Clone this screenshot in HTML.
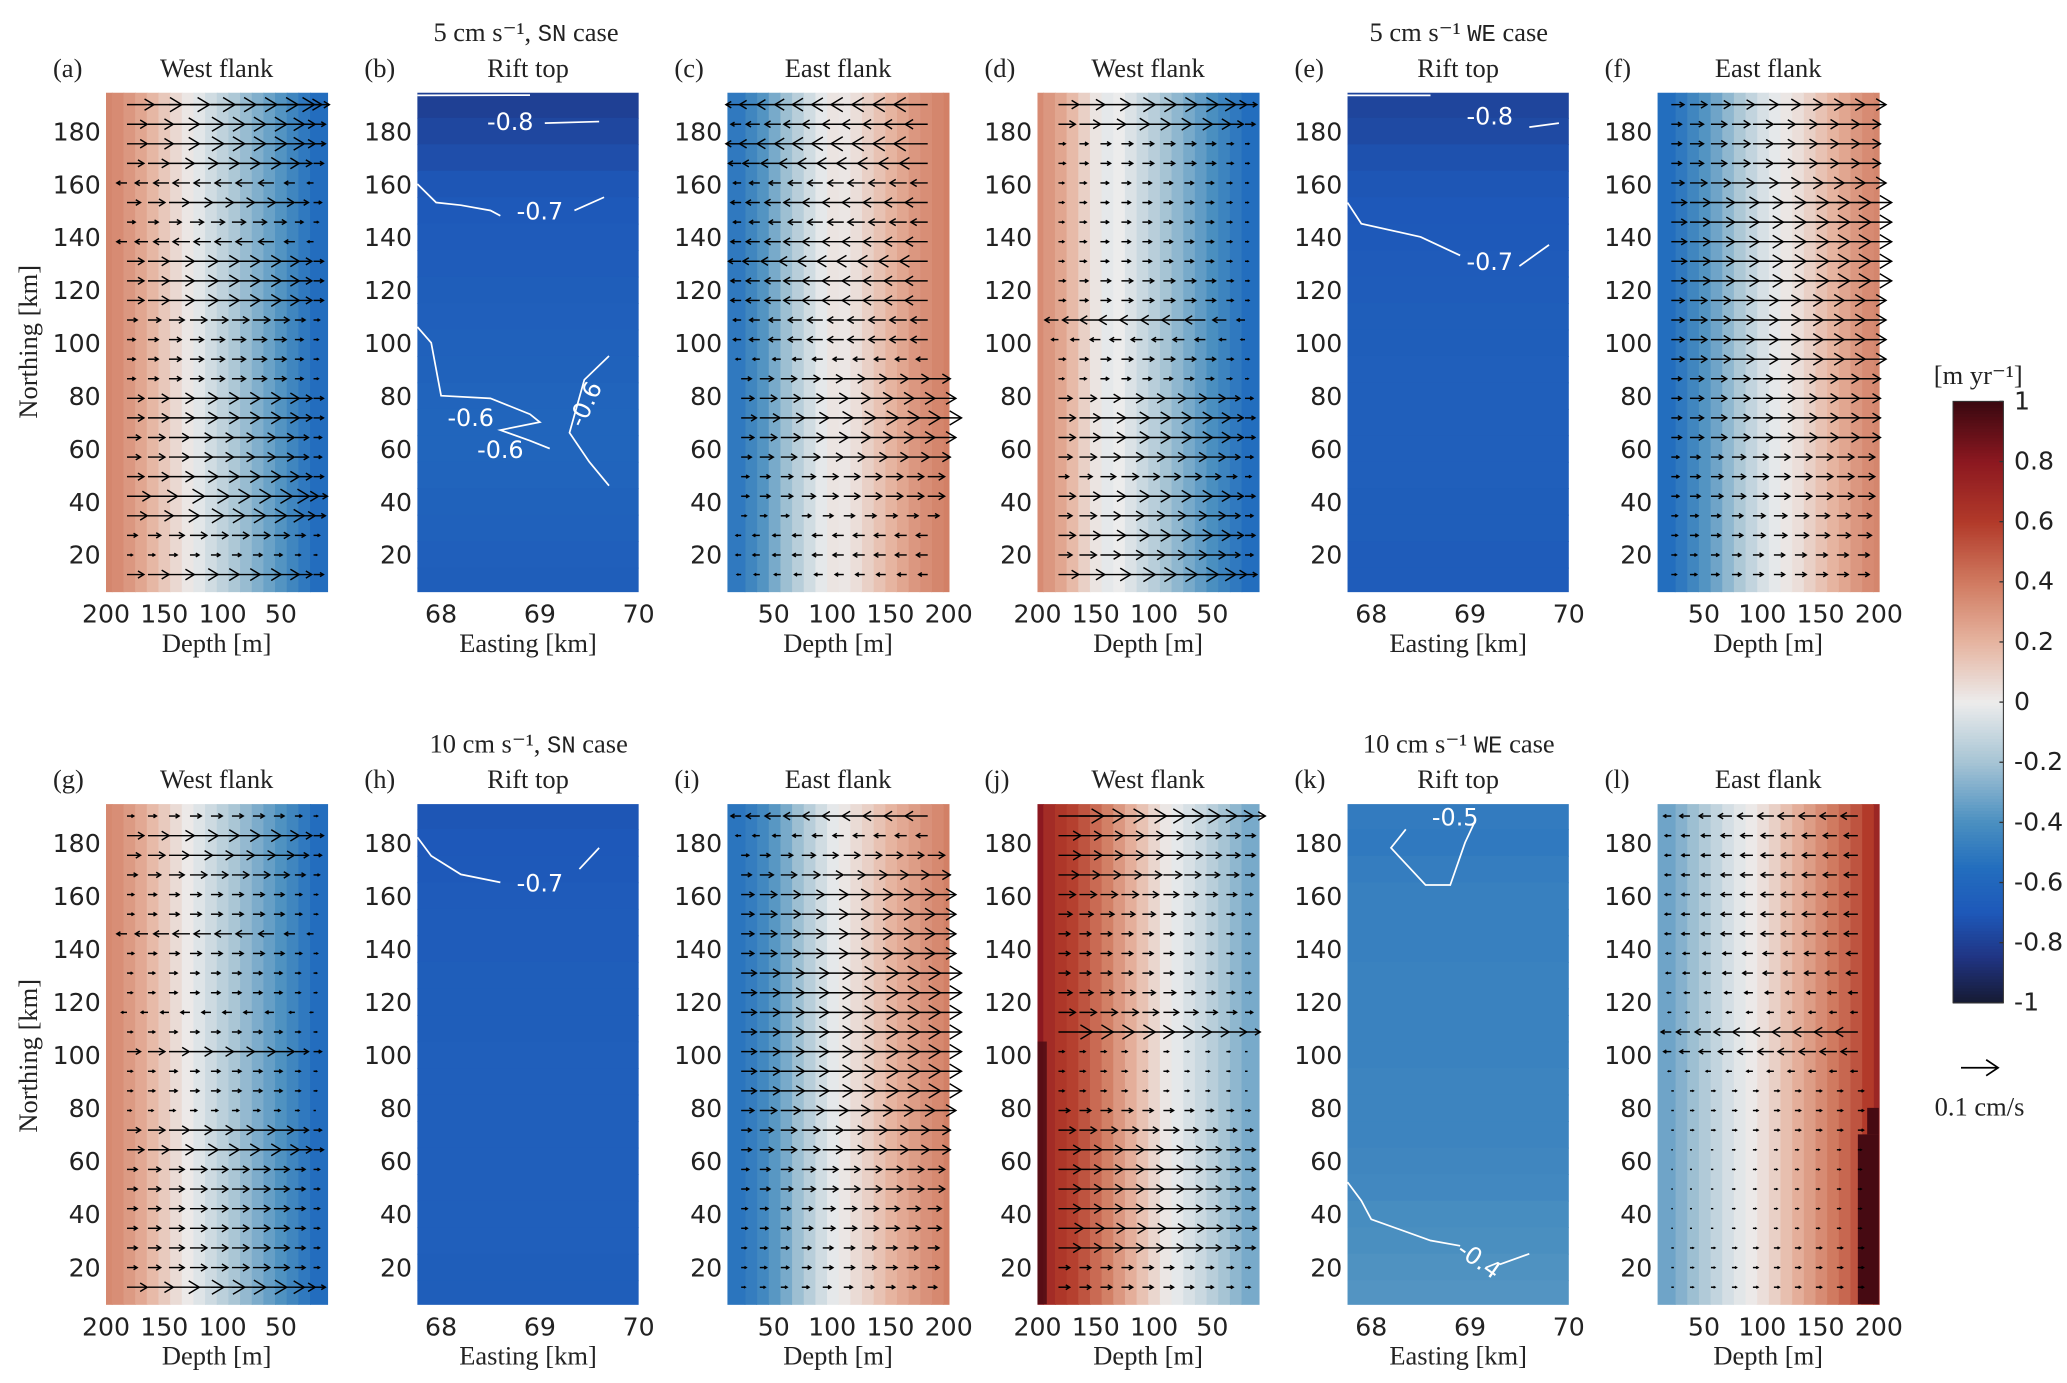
<!DOCTYPE html>
<html><head><meta charset="utf-8"><style>
html,body{margin:0;padding:0;background:#fff;}
svg{display:block;}
.tk{font-family:"DejaVu Sans","Liberation Sans",sans-serif;font-size:19px;fill:#222;}
.ti{font-family:"Liberation Serif",serif;font-size:20px;fill:#222;}
.ct{font-family:"DejaVu Sans","Liberation Sans",sans-serif;font-size:18px;fill:#fff;}
</style></head><body>
<svg id="fig" width="2067" height="1383" viewBox="0 0 1560 1044" preserveAspectRatio="none" xmlns="http://www.w3.org/2000/svg">
<g id="root"></g>
</svg>
<script>
// ---- data ----
const northRange = [5.75, 194.5];
const colDepths = [200,190,180,170,160,150,140,130,120,110,100,90,80,70,60,50,40,30,20];
const arrowDepths = [182,164,146,128,110,92,74,56,38,22];
const arrowRows = [190,182.6,175.2,167.8,160.4,153,145.6,138.2,130.8,123.4,116,108.6,101.2,93.8,86.4,79,71.6,64.2,56.8,49.4,42,34.6,27.2,19.8,12.4];
const riftRows = [190,180,170,160,150,140,130,120,110,100,90,80,70,60,50,40,30,20,10];
const valsA = [0.36,0.34,0.3,0.25,0.19,0.13,0.07,0.02,-0.03,-0.08,-0.13,-0.18,-0.23,-0.28,-0.33,-0.38,-0.44,-0.5,-0.56];
const valsC = [0.38,0.36,0.33,0.3,0.25,0.2,0.15,0.1,0.05,0.02,0.03,-0.02,-0.08,-0.15,-0.22,-0.3,-0.38,-0.44,-0.5];
const valsD = [0.34,0.3,0.25,0.18,0.1,0.03,-0.02,0.0,-0.05,-0.1,-0.15,-0.2,-0.25,-0.3,-0.35,-0.4,-0.45,-0.5,-0.55];
const valsF = [0.36,0.34,0.3,0.25,0.2,0.15,0.1,0.05,0.02,-0.02,-0.06,-0.12,-0.18,-0.25,-0.32,-0.38,-0.44,-0.5,-0.55];
const valsG = [0.35,0.33,0.29,0.24,0.18,0.12,0.06,0.01,-0.04,-0.09,-0.14,-0.19,-0.24,-0.29,-0.34,-0.39,-0.44,-0.5,-0.56];
const valsI = [0.38,0.35,0.32,0.28,0.24,0.2,0.15,0.1,0.06,0.02,-0.02,-0.08,-0.15,-0.22,-0.3,-0.37,-0.43,-0.48,-0.52];
const valsJ = [0.8,0.68,0.62,0.58,0.52,0.45,0.38,0.3,0.22,0.15,0.08,0.02,-0.02,-0.06,-0.1,-0.15,-0.2,-0.25,-0.3];
const valsL = [0.72,0.6,0.52,0.46,0.4,0.34,0.28,0.22,0.16,0.1,0.05,0.01,-0.03,-0.07,-0.12,-0.17,-0.22,-0.27,-0.32];
const riftB = [-0.8,-0.77,-0.74,-0.71,-0.69,-0.68,-0.67,-0.66,-0.65,-0.64,-0.63,-0.62,-0.61,-0.61,-0.62,-0.63,-0.64,-0.65,-0.66];
const riftE = [-0.78,-0.76,-0.73,-0.71,-0.7,-0.69,-0.68,-0.67,-0.66,-0.66,-0.65,-0.65,-0.65,-0.65,-0.65,-0.66,-0.66,-0.67,-0.67];
const riftH = [-0.71,-0.7,-0.69,-0.68,-0.67,-0.67,-0.66,-0.66,-0.66,-0.65,-0.65,-0.65,-0.65,-0.65,-0.65,-0.65,-0.65,-0.66,-0.66];
const riftK = [-0.49,-0.5,-0.48,-0.47,-0.47,-0.47,-0.46,-0.46,-0.46,-0.46,-0.45,-0.45,-0.45,-0.44,-0.43,-0.41,-0.4,-0.39,-0.38];
const ampA = [40,30,30,25,-15,20,12,-15,25,25,25,15,12,12,12,25,25,20,20,25,35,30,15,8,25];
const ampC = [-30,-20,-30,-25,-15,-20,-15,-20,-25,-20,-20,-15,-15,-10,20,25,30,25,20,15,15,10,-10,-10,-8];
const ampD = [30,25,10,10,8,8,8,8,8,10,10,-20,-10,10,8,20,25,25,20,15,25,20,25,20,30];
const ampF = [25,20,20,20,25,30,30,30,30,30,25,25,25,25,20,20,20,20,15,15,15,12,12,10,10];
const ampG = [10,25,20,15,10,10,-15,10,8,8,-8,8,20,8,8,6,20,25,15,15,15,15,15,15,30];
const ampI = [-20,-10,15,20,25,25,25,25,30,30,30,30,30,30,30,25,20,20,15,15,12,12,10,10,8];
const ampJ = [40,20,20,18,15,12,10,10,10,12,15,30,5,5,5,10,15,20,20,20,20,22,20,10,10];
const ampL = [-15,-12,-12,-12,-12,-12,-12,-10,-10,-8,-6,-20,-15,-6,5,5,5,3,3,3,3,3,5,5,5];
const wA = [0.6,0.75,0.9,1,1,1,1,0.9,0.6,0.35];
const wFlat = [1,1,1,1,0.95,0.9,0.8,0.7,0.6,0.45];
const contB1 = [[67.76,193.5],[68.9,193.6]], contB2=[[69.05,183],[69.6,183.6]];
const contB3 = [[67.76,160],[67.95,153],[68.2,152],[68.5,150],[68.6,148]], contB4=[[69.35,150],[69.65,155]];
const contB5 = [[67.76,106],[67.9,100],[67.95,90],[68.0,80],[68.5,79],[68.9,73],[69.0,70],[68.6,67],[68.9,63],[69.1,60]];
const contB6 = [[69.7,95],[69.45,86],[69.3,66],[69.5,55],[69.7,46]];
const contE1 = [[67.76,193.5],[68.6,193.5]], contE2=[[69.6,181.5],[69.9,183]];
const contE3 = [[67.76,153],[67.9,145],[68.5,140],[68.9,133]], contE4=[[69.5,129],[69.8,137]];
const contH1 = [[67.76,182],[67.9,175],[68.2,168],[68.6,165]], contH2=[[69.4,170],[69.6,178]];
const contK1 = [[68.35,185],[68.2,178],[68.4,170],[68.55,164],[68.8,164],[68.95,180],[69.05,188]];
const contK2 = [[67.76,52],[67.9,45],[68.0,38],[68.6,30],[68.9,28]], contK3=[[69.3,21],[69.6,25]];
const cbTicks = [1,0.8,0.6,0.4,0.2,0,-0.2,-0.4,-0.6,-0.8,-1];
const yTicks = [20,40,60,80,100,120,140,160,180];

const cmap = [[-1,[22,26,50]],[-0.85,[32,52,130]],[-0.7,[30,88,185]],[-0.55,[35,110,190]],[-0.4,[74,143,192]],[-0.2,[166,196,212]],[0,[236,236,236]],[0.2,[230,180,160]],[0.4,[208,122,96]],[0.6,[178,58,42]],[0.8,[140,24,32]],[1,[58,8,16]]];
function col(v){v=Math.max(-1,Math.min(1,v));for(let i=0;i<cmap.length-1;i++){const a=cmap[i],b=cmap[i+1];if(v<=b[0]){const t=(v-a[0])/(b[0]-a[0]);return 'rgb('+a[1].map((c,k)=>Math.round(c+(b[1][k]-c)*t)).join(',')+')';}}return 'rgb(58,8,16)';}

const NS='http://www.w3.org/2000/svg';
const root=document.getElementById('root');
function el(tag,attrs,parent,txt){const e=document.createElementNS(NS,tag);for(const k in attrs)e.setAttribute(k,attrs[k]);if(txt!==undefined)e.textContent=txt;(parent||root).appendChild(e);return e;}

const colX=[80,315,549,783,1017,1251], W=167;
const rowsY=[[70,447],[607,985]];
function yScale(r){const [t,b]=rowsY[r];return n=>b-(n-northRange[0])/(northRange[1]-northRange[0])*(b-t);}
function depthScale(x0,rev){return d=> rev? x0+(200-d)*0.88 : x0+W-(200-d)*0.88;}
function eastScale(x0){return e=>x0+(e-67.76)/(70-67.76)*W;}

function axesCommon(g,x0,r,label,title,kind){
  const [t,b]=rowsY[r], y=yScale(r);
  el('text',{x:x0-40,y:t-12,class:'ti',},g,label);
  el('text',{x:x0+W/2,y:t-12,class:'ti','text-anchor':'middle',},g,title);
  yTicks.forEach(v=>{const tt=el('text',{x:x0-4,y:y(v)+7,class:'tk','text-anchor':'end'},g,String(v));});
  el('text',{x:x0+W/2,y:b+45,class:'ti','text-anchor':'middle',},g,kind==='e'?'Easting [km]':'Depth [m]');
}

function flank(x0,r,label,title,vals,amp,w,rev,extra){
  const g=el('g',{});
  const [t,b]=rowsY[r], y=yScale(r), xs=depthScale(x0,rev);
  vals.forEach((v,i)=>{const d=colDepths[i];const lo=(i===vals.length-1)?0:d-5;const xa=xs(d+5),xb=xs(lo);const xl=Math.max(x0,Math.min(xa,xb)),xr=Math.min(x0+W,Math.max(xa,xb));
    const c=el('rect',{x:xl,y:t,width:Math.max(0,xr-xl+0.6),height:b-t,fill:col(v)},g);});
  if(extra)extra(g,xs,y);
  arrowRows.forEach((n,ri)=>{const a=amp[ri];arrowDepths.forEach((d,ci)=>{const L=a*w[ci]*0.85;const x1=xs(d),yy=y(n);const x2=x1+L;
    const ln=el('line',{x1:x1,y1:yy,x2:x2,y2:yy,stroke:'#000','stroke-width':1.1},g);
    const h=Math.min(9,Math.abs(L)*0.35),s=Math.sign(L)||1;
    if(Math.abs(L)>2){const hd=el('polyline',{points:(x2-s*h)+','+(yy-h*0.6)+' '+x2+','+yy+' '+(x2-s*h)+','+(yy+h*0.6),fill:'none',stroke:'#000','stroke-width':1.1},g);}
  });});
  axesCommon(g,x0,r,label,title,'d');
  const tk=rev?[200,150,100,50]:[50,100,150,200];
  tk.forEach(v=>{const tt=el('text',{x:xs(v),y:b+23,class:'tk','text-anchor':'middle'},g,String(v));});
}

function rift(x0,r,label,title,rows,contours,labels){
  const g=el('g',{});
  const [t,b]=rowsY[r], y=yScale(r), xs=eastScale(x0);
  rows.forEach((v,i)=>{const n=riftRows[i];const ya=Math.max(t,y(n+5)),yb=Math.min(b,y(n-5)+0.6);
    const c=el('rect',{x:x0,y:ya,width:W,height:yb-ya,fill:col(v)},g);});
  contours.forEach(cn=>{const p=el('polyline',{points:cn.map(q=>xs(q[0])+','+y(q[1])).join(' '),fill:'none',stroke:'#fff','stroke-width':1.3},g);});
  labels.forEach(l=>{const X=xs(l[0]),Y=y(l[1]);const tt=el('text',{x:X,y:Y+7,class:'ct','text-anchor':'middle',transform:'rotate('+(l[3]||0)+' '+X+' '+Y+')'},g,l[2]);});
  axesCommon(g,x0,r,label,title,'e');
  [68,69,70].forEach(v=>{const tt=el('text',{x:xs(v),y:b+23,class:'tk','text-anchor':'middle'},g,String(v));});
}

function darkJ(g,xs,y){const r=el('rect',{x:xs(200),y:y(105),width:xs(192)-xs(200),height:y(6)-y(105),fill:col(0.95),opacity:0.85},g);}
function darkL(g,xs,y){const r=el('rect',{x:xs(182),y:y(70),width:xs(200)-xs(182),height:y(6)-y(70),fill:col(0.97)},g);
 const r2=el('rect',{x:xs(190),y:y(80),width:xs(200)-xs(190),height:y(70)-y(80),fill:col(0.97)},g);}

flank(colX[0],0,'(a)','West flank',valsA,ampA,wA,true);
rift(colX[1],0,'(b)','Rift top',riftB,[contB1,contB2,contB3,contB4,contB5,contB6],[[68.7,184,'-0.8'],[69.0,150,'-0.7'],[68.3,72,'-0.6'],[68.6,60,'-0.6'],[69.45,77,'-0.6',-65]]);
flank(colX[2],0,'(c)','East flank',valsC,ampC,wFlat,false);
flank(colX[3],0,'(d)','West flank',valsD,ampD,wA,true);
rift(colX[4],0,'(e)','Rift top',riftE,[contE1,contE2,contE3,contE4],[[69.2,186,'-0.8'],[69.2,131,'-0.7']]);
flank(colX[5],0,'(f)','East flank',valsF,ampF,wFlat,false);
flank(colX[0],1,'(g)','West flank',valsG,ampG,wA,true);
rift(colX[1],1,'(h)','Rift top',riftH,[contH1,contH2],[[69.0,165,'-0.7']]);
flank(colX[2],1,'(i)','East flank',valsI,ampI,wFlat,false);
flank(colX[3],1,'(j)','West flank',valsJ,ampJ,wFlat,true,darkJ);
rift(colX[4],1,'(k)','Rift top',riftK,[contK1,contK2,contK3],[[68.85,190,'-0.5'],[69.1,23,'-0.4',35]]);
flank(colX[5],1,'(l)','East flank',valsL,ampL,wFlat,false,darkL);

[[397,25,'5 cm s','⁻¹, ','SN',' case'],[1101,25,'5 cm s','⁻¹ ','WE',' case'],[399,562,'10 cm s','⁻¹, ','SN',' case'],[1101,562,'10 cm s','⁻¹ ','WE',' case']].forEach(h=>{
  const t=el('text',{x:h[0],y:h[1]+6,class:'ti','text-anchor':'middle'});
  el('tspan',{},t,h[2]+h[3]);el('tspan',{'font-family':'Liberation Mono, monospace','font-size':'18'},t,h[4]);el('tspan',{},t,h[5]);
});
[258,797].forEach(cy=>{const t=el('text',{x:28,y:cy,class:'ti','text-anchor':'middle',transform:'rotate(-90 28 '+cy+')'},root,'Northing [km]');});

const cb=el('g',{});
for(let i=0;i<200;i++){const v=-1+(i+0.5)/100;const yy=757-(i+1)*(454/200);el('rect',{x:1474,y:yy,width:38,height:454/200+0.5,fill:col(v)},cb);}
el('rect',{x:1474,y:303,width:38,height:454,fill:'none',stroke:'#333','stroke-width':0.8},cb);
cbTicks.forEach(v=>{const yy=757-(v+1)/2*454;el('line',{x1:1509,x2:1512,y1:yy,y2:yy,stroke:'#333'},cb);const t=el('text',{x:1520,y:yy+6,class:'tk','font-size':'17'},cb,String(v));});
const cbl=el('text',{x:1493,y:290,class:'ti','text-anchor':'middle','font-size':'18'},root,'[m yr⁻¹]');
const ak=el('g',{});
el('line',{x1:1480,y1:806,x2:1508,y2:806,stroke:'#000','stroke-width':1.3},ak);
el('polyline',{points:'1499,800 1508,806 1499,812',fill:'none',stroke:'#000','stroke-width':1.3},ak);
el('text',{x:1494,y:842,class:'ti','text-anchor':'middle','font-size':'22'},ak,'0.1 cm/s');
</script>
</body></html>
